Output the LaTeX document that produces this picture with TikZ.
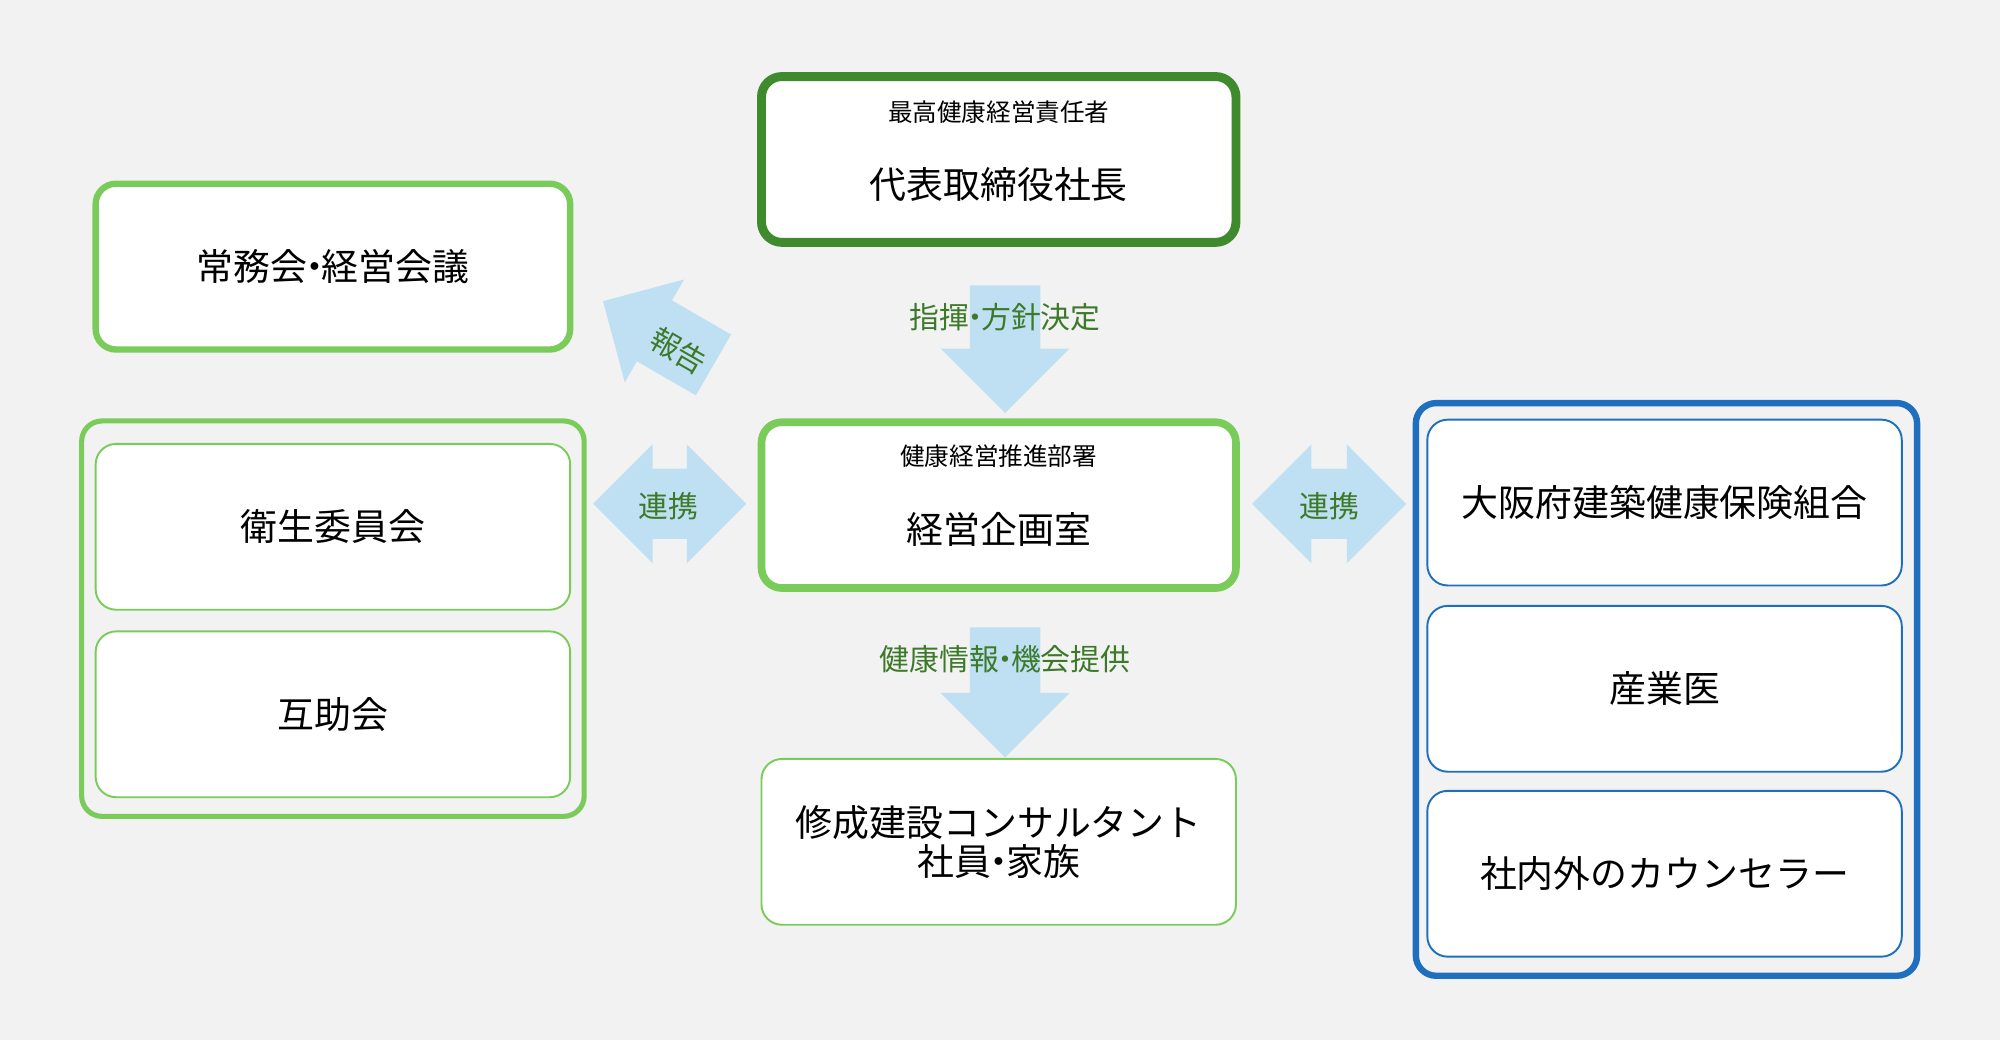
\documentclass[tikz,border=0pt]{standalone}
\usepackage{fontspec}
\setmainfont{Noto Sans CJK JP}
\usetikzlibrary{shapes.arrows}
\definecolor{dgreen}{HTML}{3E8A2C}
\definecolor{lgreen}{HTML}{7ACC5A}
\definecolor{tgreen}{HTML}{3C7A2A}
\definecolor{dblue}{HTML}{1F6FBF}
\definecolor{lblue}{HTML}{BFE0F2}
\definecolor{bgray}{HTML}{F2F2F2}
\def\px{0.012755cm}
\tikzset{
  box/.style={draw, fill=white, rounded corners=16*\px, minimum width=372*\px, minimum height=130*\px, inner sep=0pt, font=\fontsize{10.5}{12}\selectfont},
  group/.style={draw, rounded corners=16*\px},
  sub/.style={font=\fontsize{7}{8}\selectfont},
  arr/.style={fill=lblue, draw=none, inner xsep=0pt, inner ysep=27*\px, text height=0pt, text depth=0pt},
  lab/.style={text=tgreen, font=\fontsize{8.5}{10}\selectfont},
}
\begin{document}
\begin{tikzpicture}[x=\px, y=-\px]
\fill[bgray] (0,0) rectangle (1568,815);
\useasboundingbox (0,0) rectangle (1568,815);
% groups
\draw[group, lgreen, line width=4*\px] (64,330) rectangle (458,640);
\draw[group, dblue, line width=5*\px] (1110,316) rectangle (1503,765);
% boxes
\node[box, draw=dgreen, line width=7*\px] (ceo) at (783,125) {};
\node[sub] at (783,88) {最高健康経営責任者};
\node[font=\fontsize{10.5}{12}\selectfont] at (783,145) {代表取締役社長};
\node[box, draw=lgreen, line width=5*\px] (board) at (261,209) {常務会{\kern-0.3em}・{\kern-0.3em}経営会議};
\node[box, draw=lgreen, line width=1.5*\px] (eisei) at (261,413) {衛生委員会};
\node[box, draw=lgreen, line width=1.5*\px] (gojo) at (261,560) {互助会};
\node[box, draw=lgreen, line width=6*\px] (plan) at (783,396) {};
\node[sub] at (783,358) {健康経営推進部署};
\node[font=\fontsize{10.5}{12}\selectfont] at (783,415) {経営企画室};
\node[box, draw=lgreen, line width=1.5*\px, align=center, font=\fontsize{10.5}{11}\selectfont] (staff) at (783,660) {修成建設コンサルタント\\社員{\kern-0.3em}・{\kern-0.3em}家族};
\node[box, draw=dblue, line width=1.5*\px] (kenpo) at (1305,394) {大阪府建築健康保険組合};
\node[box, draw=dblue, line width=1.5*\px] (sangyo) at (1305,540) {産業医};
\node[box, draw=dblue, line width=1.5*\px] (counsel) at (1305,685) {社内外のカウンセラー};
% arrows
\node[arr, single arrow, rotate=-90, minimum height=100*\px, single arrow head extend=23*\px, single arrow tip angle=90] (a1) at (788,260) {};
\node[lab] at (788,249) {指揮{\kern-0.3em}・{\kern-0.3em}方針決定};
\node[arr, single arrow, rotate=-90, minimum height=102*\px, single arrow head extend=23*\px, single arrow tip angle=90] (a2) at (788,529) {};
\node[lab] at (788,517) {健康情報{\kern-0.3em}・{\kern-0.3em}機会提供};
\node[arr, double arrow, minimum height=120*\px, double arrow head extend=19*\px] (a3) at (525,395) {};
\node[lab] at (524,397) {連携};
\node[arr, double arrow, minimum height=121*\px, double arrow head extend=19*\px] (a4) at (1042,395) {};
\node[lab] at (1042,397) {連携};
\node[arr, single arrow, rotate=150, minimum height=100*\px, single arrow head extend=19*\px] (a5) at (528,268) {};
\node[lab, rotate=-30] at (532,275) {報告};
\end{tikzpicture}
\end{document}
